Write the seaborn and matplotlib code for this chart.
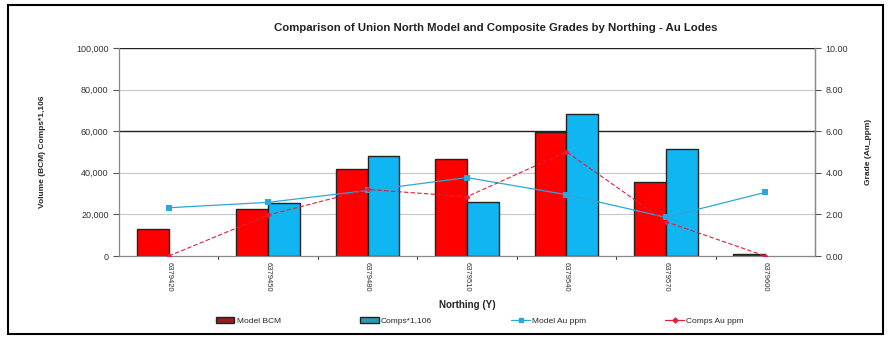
import numpy as np
import pandas as pd
import matplotlib.pyplot as plt
import matplotlib.patches as mpatches
import matplotlib.lines as mlines
import seaborn as sns

# --- Data ---
northing = ['6379420', '6379450', '6379480', '6379510', '6379540', '6379570', '6379600']
model_bcm = [13000, 22400, 41700, 46500, 59400, 35700, 1000]
comps_vol = [0, 25300, 48200, 26100, 68300, 51400, 0]
model_au = [2.32, 2.58, 3.15, 3.77, 2.95, 1.86, 3.06]
comps_au = [0.0, 1.97, 3.20, 2.85, 5.01, 1.65, 0.0]

RED = '#ff0000'
CYAN = '#10b6f2'
LINE_CYAN = '#2aa8d8'
LINE_RED = '#e0203a'

sns.set_style('white')
plt.rcParams['font.family'] = ['Liberation Sans', 'DejaVu Sans']

df = pd.DataFrame({
    'Northing': northing * 2,
    'Volume': model_bcm + comps_vol,
    'Series': ['Model BCM'] * 7 + ['Comps*1,106'] * 7,
})

fig = plt.figure(figsize=(8.96, 3.43), dpi=100)
ax = fig.add_axes([119 / 896, 1 - 256 / 343, (815 - 119) / 896, (256 - 48) / 343])

sns.barplot(data=df, x='Northing', y='Volume', hue='Series', ax=ax,
            palette=[RED, CYAN], saturation=1, width=0.64, edgecolor='#222222',
            linewidth=1.0, legend=False)
# last model bar is drawn darker in the original
red_bars = ax.containers[0]
red_bars[-1].set_facecolor('#7a1a1a')
for cont in ax.containers:
    for bar in cont:
        if bar.get_height() == 0:
            bar.set_visible(False)

ax.set_ylim(0, 100000)
ax.set_xlim(-0.5, len(northing) - 0.5)
ax.set_yticks(np.arange(0, 100001, 20000))
ax.set_yticklabels([f'{v:,}' for v in range(0, 100001, 20000)], fontsize=6.5, color='#333333')
ax.set_xticks(np.arange(len(northing)))
ax.set_xticklabels(northing, rotation=-90, fontsize=5.5, color='#333333')
ax.tick_params(axis='x', length=0, pad=4)
ax.tick_params(axis='y', length=4, width=0.8, color='#555555', direction='out', left=True)
for b in np.arange(0.5, len(northing) - 0.5):
    ax.axvline(b, ymin=-0.015, ymax=0, color='#444444', lw=0.8, clip_on=False)

for v in [20000, 40000, 80000]:
    ax.axhline(v, color='#c8c8c8', lw=0.8, zorder=0)
ax.axhline(60000, color='#222222', lw=1.0, zorder=0)
ax.axhline(100000, color='#222222', lw=1.0, zorder=0)

ax.spines['top'].set_visible(False)
for s in ['left', 'right', 'bottom']:
    ax.spines[s].set_color('#888888')
    ax.spines[s].set_linewidth(0.9)

ax.set_xlabel('Northing (Y)', fontsize=7, fontweight='bold', labelpad=6)
ax.set_ylabel('Volume (BCM) Comps*1,106', fontsize=6, fontweight='bold', labelpad=22)

ax2 = ax.twinx()
pos = np.arange(len(northing))
sns.lineplot(x=pos, y=model_au, ax=ax2, color=LINE_CYAN, marker='s', markersize=4,
             markeredgewidth=0, lw=0.9)
sns.lineplot(x=pos, y=comps_au, ax=ax2, color=LINE_RED, marker='D', markersize=3,
             markeredgewidth=0, lw=0.8, linestyle=(0, (4, 2)))
ax2.set_ylim(0, 10)
ax2.set_xlim(-0.5, len(northing) - 0.5)
ax2.set_yticks(np.arange(0, 10.01, 2))
ax2.set_yticklabels([f'{v:.2f}' for v in np.arange(0, 10.01, 2)], fontsize=6.5, color='#333333')
ax2.tick_params(axis='y', length=4, width=0.8, color='#555555', direction='out', right=True)
ax2.set_ylabel('Grade (Au_ppm)', fontsize=6, fontweight='bold', rotation=90, labelpad=12)
ax2.yaxis.set_label_position('right')
for s in ['top', 'left', 'bottom']:
    ax2.spines[s].set_visible(False)
ax2.spines['right'].set_color('#888888')
ax2.spines['right'].set_linewidth(0.9)
ax2.grid(False)

fig.text(496 / 896, 1 - 28 / 343,
         'Comparison of Union North Model and Composite Grades by Northing - Au Lodes',
         ha='center', va='center', fontsize=8.2, fontweight='bold', color='#222222')

handles = [
    mpatches.Patch(facecolor='#9a1a1a', edgecolor='#222222', label='Model BCM'),
    mpatches.Patch(facecolor='#2a9ab8', edgecolor='#222222', label='Comps*1,106'),
    mlines.Line2D([], [], color=LINE_CYAN, marker='s', markersize=3, lw=0.9, label='Model Au ppm'),
    mlines.Line2D([], [], color=LINE_RED, marker='D', markersize=2.5, lw=0.9, label='Comps Au ppm'),
]
fig.legend(handles=handles, loc='center', bbox_to_anchor=(480 / 896, 1 - 321 / 343), ncol=4,
           frameon=False, fontsize=6, columnspacing=9.5, handlelength=2.2, handleheight=0.6,
           handletextpad=0.3)

fig.add_artist(mpatches.Rectangle((8 / 896, 1 - 334 / 343), 875 / 896, 329 / 343,
                                  transform=fig.transFigure, fill=False,
                                  edgecolor='black', lw=1.5))

fig.savefig('out.png', dpi=100)
plt.close(fig)
